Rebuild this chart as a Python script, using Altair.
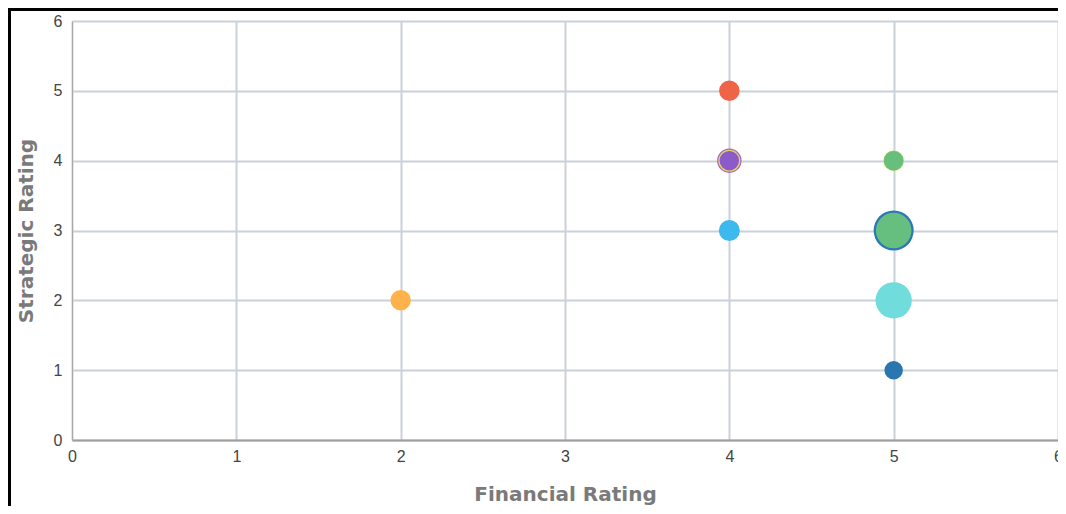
import altair as alt
import pandas as pd

# Bubble data (drawn largest first)
ids = ["A", "B", "C", "D", "E", "F", "G", "H", "I", "J", "K", "L"]
financial = [5, 5, 5, 4, 4, 4, 4, 5, 2, 4, 5, 5]
strategic = [3, 2, 3, 4, 4, 3, 5, 4, 2, 4, 4, 1]
value = [80, 66, 63, 30, 24, 22, 21, 21, 21, 19, 19, 17]
palette = ["#2B78B4", "#70DCDC", "#66BF7E", "#A668C8", "#E6D45C", "#3DB9EE",
           "#EF6446", "#C9D64E", "#FFB14C", "#8A5BC9", "#66BF7C", "#2A77B0"]
ticks = [0, 1, 2, 3, 4, 5, 6]

df = pd.DataFrame({"id": ids, "Financial": financial, "Strategic": strategic,
                   "Value": value, "order": list(range(len(ids)))})

W, H = 986, 419
PL, PT = 64, 13

points = alt.Chart(df).mark_circle(opacity=1).encode(
    x=alt.X("Financial:Q", title="Financial Rating",
            scale=alt.Scale(domain=[0, 6], nice=False),
            axis=alt.Axis(values=ticks, format="d")),
    y=alt.Y("Strategic:Q", title="Strategic Rating",
            scale=alt.Scale(domain=[0, 6], nice=False),
            axis=alt.Axis(values=ticks, format="d")),
    size=alt.Size("Value:Q", scale=alt.Scale(domain=[0, 100], range=[0, 2000], zero=True), legend=None),
    color=alt.Color("id:N", scale=alt.Scale(domain=ids, range=palette), legend=None),
    order=alt.Order("order:Q"),
)

frame_left = alt.Chart(df).mark_rule(color="black", strokeWidth=5, clip=False).encode(
    x=alt.value(-PL), y=alt.value(-PT), y2=alt.value(H + 100)
)
frame_top = alt.Chart(df).mark_rule(color="black", strokeWidth=5, clip=False).encode(
    x=alt.value(-PL), x2=alt.value(W + 20), y=alt.value(-PT)
)

chart = alt.layer(points, frame_left, frame_top).properties(
    width=W, height=H,
    autosize=alt.AutoSizeParams(type="none"),
    padding={"left": PL, "top": PT, "right": 0, "bottom": 66},
).configure_view(strokeWidth=0).configure_axis(
    grid=True, gridColor="#C9D1D9", gridWidth=2,
    ticks=False, tickSize=0,
    labelFont="Liberation Sans", labelFontSize=16, labelColor="#444444",
    titleFont="DejaVu Sans", titleFontSize=20, titleFontWeight="bold", titleColor="#7A7A7A",
).configure_axisX(
    domainColor="#9E9E9E", domainWidth=2, labelPadding=8, titlePadding=20,
    labelFlush=False,
).configure_axisY(
    domainColor="#A8A8A8", domainWidth=1, labelPadding=10, titlePadding=17,
    labelFlush=False,
)

chart.save("out.html", embed_options={"renderer": "svg", "actions": False})
